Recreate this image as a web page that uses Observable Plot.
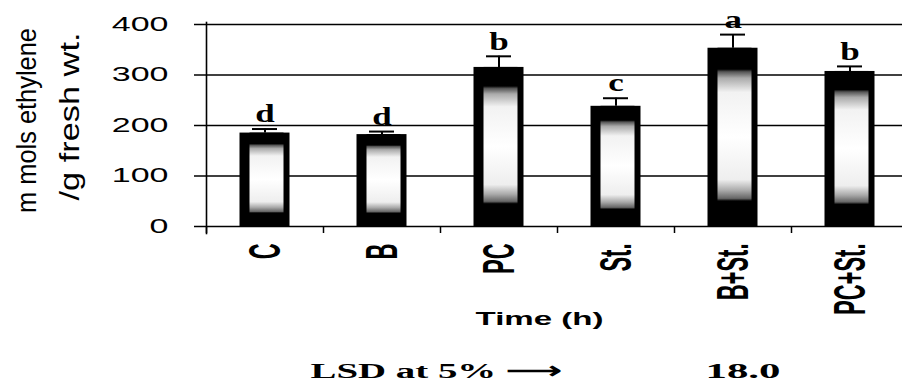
<!DOCTYPE html>
<html>
<head>
<meta charset="utf-8">
<script src="https://cdn.jsdelivr.net/npm/d3@7"></script>
<script src="https://cdn.jsdelivr.net/npm/@observablehq/plot@0.6"></script>
<style>
  html, body { margin: 0; padding: 0; background: #fff; }
  #chart { width: 902px; height: 392px; }
</style>
</head>
<body>
<div id="chart"></div>
<script>
// ---- data ----
const categories = ["C", "B", "PC", "St.", "B+St.", "PC+St."];
const values = [185, 182, 315, 238, 353, 307];
const errors = [8, 6, 22, 16, 27, 10];
const letters = ["d", "d", "b", "c", "a", "b"];
const yTicks = [0, 100, 200, 300, 400];
const yTitleLines = ["m mols ethylene", "/g fresh wt."];
const xTitle = "Time (h)";
const lsdLabel = "LSD at 5% \u27F6";
const lsdValue = "18.0";

const data = categories.map((c, i) => ({cat: c, v: values[i], e: errors[i], l: letters[i]}));

const sans = "'Liberation Sans', Arial, sans-serif";
const serif = "'Liberation Serif', 'Times New Roman', serif";

const svg = Plot.plot({
  width: 902,
  height: 392,
  marginLeft: 206,
  marginRight: 0,
  marginTop: 24,
  marginBottom: 166,
  style: {background: "white", color: "black", fontFamily: sans, overflow: "visible"},
  x: {domain: categories, range: [206, 908], padding: 0, label: null},
  y: {domain: [0, 400], label: null},
  marks: [
    Plot.ruleY(yTicks, {stroke: "black", strokeWidth: 1.6}),
    Plot.barY(data, {x: "cat", y: "v", fill: "black", insetLeft: 33.5, insetRight: 33.5}),
    Plot.barY(data, {x: "cat", y: "v", fill: "url(#barGrad)", insetLeft: 43.5, insetRight: 39.5}),
    Plot.ruleX(data, {x: "cat", y1: "v", y2: d => d.v + d.e, stroke: "black", strokeWidth: 2}),
    Plot.tickY(data, {x: "cat", y: d => d.v + d.e, inset: 46, stroke: "black", strokeWidth: 2}),
    // text marks, in this order: 0 letters, 1-2 y title, 3 x title, 4-5 LSD
    Plot.text(data, {x: "cat", y: d => d.v + d.e, text: "l", lineAnchor: "bottom", dy: -6,
      fontFamily: serif, fontWeight: "bold", fontSize: 25}),
    Plot.text([yTitleLines[0]], {frameAnchor: "left", textAnchor: "middle", rotate: -90, dx: -179, dy: -5, fontSize: 21}),
    Plot.text([yTitleLines[1]], {frameAnchor: "left", textAnchor: "middle", rotate: -90, dx: -137, dy: -9, fontSize: 21}),
    Plot.text([xTitle], {frameAnchor: "bottom", textAnchor: "middle", dx: -15, dy: 98, fontSize: 18, fontWeight: "bold"}),
    Plot.text([lsdLabel], {frameAnchor: "bottom", textAnchor: "middle", dx: -118, dy: 152, fontSize: 22, fontWeight: "bold", fontFamily: serif}),
    Plot.text([lsdValue], {frameAnchor: "bottom", textAnchor: "middle", dx: 188.5, dy: 152, fontSize: 22, fontWeight: "bold", fontFamily: serif}),
    // y axis: ticks, then labels set further left
    Plot.axisY({ticks: yTicks, tickSize: 12, tickFormat: () => "", label: null, strokeWidth: 1.5}),
    Plot.axisY({ticks: yTicks, tickSize: 0, tickPadding: 0, dx: -38, fontSize: 20, label: null}),
    Plot.axisX({tickSize: 0, tickRotate: -90, tickPadding: 17, fontSize: 22, fontWeight: "bold", label: null}),
    Plot.axisX({tickSize: 7, tickFormat: () => "", dx: -58.5, label: null, strokeWidth: 1.5}),
    Plot.frame({anchor: "left", insetTop: -2, insetBottom: -7, strokeWidth: 1.6})
  ]
});

document.getElementById("chart").appendChild(svg);

// gradient for the bar interiors
const defs = d3.select(svg).insert("defs", ":first-child");
const grad = defs.append("linearGradient").attr("id", "barGrad")
  .attr("x1", 0).attr("y1", 0).attr("x2", 0).attr("y2", 1);
[[0, "#000"], [0.12, "#000"], [0.135, "#555"], [0.17, "#aaa"], [0.25, "#f2f2f2"], [0.5, "#fff"],
 [0.74, "#eee"], [0.8, "#aaa"], [0.845, "#666"], [0.86, "#000"], [1, "#000"]]
  .forEach(([o, c]) => grad.append("stop").attr("offset", o).attr("stop-color", c));

// stretched lettering as in the reference: scale each text in its own coordinates,
// then move it back so its chosen screen anchor stays where Plot placed it
function pick(r, h, v) {
  const x = h === "left" ? r.left : h === "right" ? r.right : (r.left + r.right) / 2;
  const y = v === "top" ? r.top : v === "bottom" ? r.bottom : (r.top + r.bottom) / 2;
  return [x, y];
}
function scaleText(el, sx, sy, h, v) {
  if (!el.textContent) return;
  const r0 = el.getBoundingClientRect();
  const t = el.getAttribute("transform") || "";
  el.setAttribute("transform", `${t} scale(${sx},${sy})`.trim());
  const r1 = el.getBoundingClientRect();
  const [x0, y0] = pick(r0, h, v), [x1, y1] = pick(r1, h, v);
  el.setAttribute("transform", `translate(${x0 - x1},${y0 - y1}) ${el.getAttribute("transform")}`);
}
function fitText(el, length, sy = 1) {
  const w = el.getBBox().width;
  scaleText(el, length / w, sy, "center", "middle");
}
const root = d3.select(svg);
root.selectAll('g[aria-label="y-axis tick label"] text').each(function () { scaleText(this, 1.7, 1, "right", "middle"); });
const textGroups = root.selectAll('g[aria-label="text"]').nodes();
d3.select(textGroups[0]).selectAll("text").each(function () { scaleText(this, 1.4, 1, "center", "bottom"); });
fitText(textGroups[1].querySelector("text"), 185, 1.35);
fitText(textGroups[2].querySelector("text"), 168, 1.35);
fitText(textGroups[3].querySelector("text"), 128);
fitText(textGroups[4].querySelector("text"), 252);
fitText(textGroups[5].querySelector("text"), 75);
// rotated category labels: widen glyph height (screen-horizontal)
root.selectAll('g[aria-label="x-axis tick label"] text').each(function () { scaleText(this, 1, 2, "center", "top"); });
</script>
</body>
</html>
